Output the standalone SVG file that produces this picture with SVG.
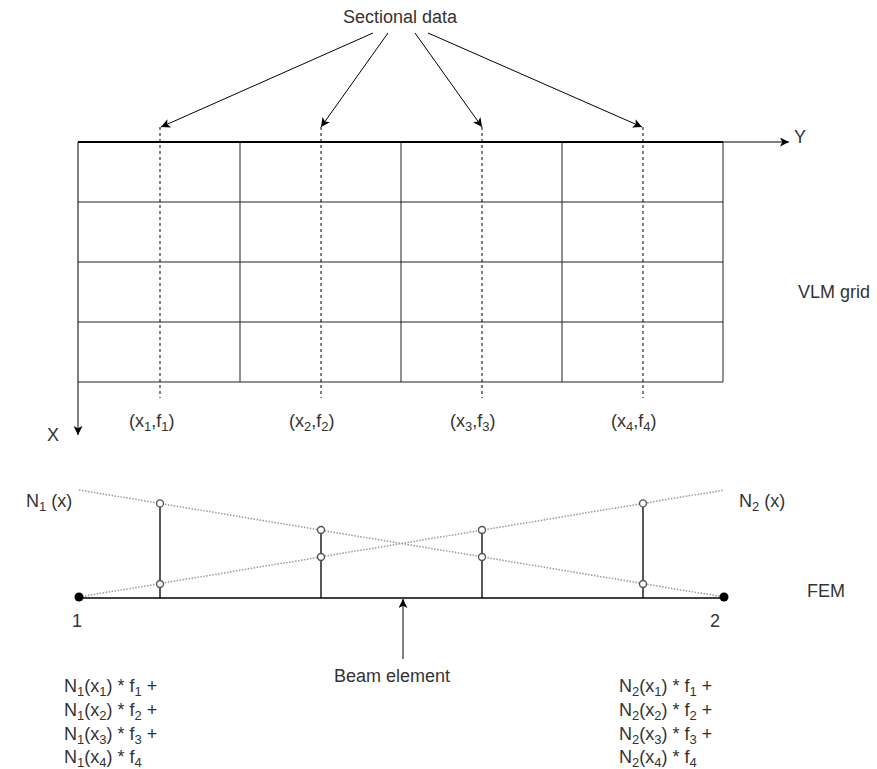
<svg xmlns="http://www.w3.org/2000/svg" width="877" height="769" viewBox="0 0 877 769">
<defs>
<marker id="arr" viewBox="0 0 10 10" refX="10" refY="5" markerUnits="userSpaceOnUse" markerWidth="11" markerHeight="9" orient="auto">
<path d="M0,0 L10,5 L0,10 L2.5,5 z" fill="#000"/>
</marker>
<style>
text{font-family:"Liberation Sans",Arial,sans-serif;font-size:18px;fill:#333}
.sub{font-size:13px}
.grid{stroke:#222;stroke-width:1;fill:none}
.border{stroke:#000;stroke-width:2;fill:none}
.dash{stroke:#000;stroke-width:1;stroke-dasharray:3,3;fill:none}
.dot{stroke:#999;stroke-width:1.5;stroke-dasharray:1.5,1.5;fill:none}
.conn{stroke:#000;stroke-width:1;fill:none}
.post{stroke:#000;stroke-width:1.3}
.pt{fill:#fff;stroke:#555;stroke-width:1.4}
</style>
</defs>
<rect width="877" height="769" fill="#fff"/>

<g id="vlm-grid">
<path class="grid" d="M78,202H723M78,262H723M78,322H723M78,382H723M240,142V382M401,142V382M562,142V382M723,142V382"/>
<path class="border" d="M78,142H723"/>
</g>

<g id="axes">
<path class="conn" d="M723,142H789" marker-end="url(#arr)" stroke-width="1.3"/>
<path class="conn" d="M78,142V435" marker-end="url(#arr)" stroke-width="2"/>
<text x="794" y="143">Y</text>
<text x="47" y="441">X</text>
</g>

<g id="sections">
<path class="dash" d="M160,127V398M321,127V398M482,127V398M643,127V398"/>
<text x="129" y="427">(x<tspan class="sub" dy="4">1</tspan><tspan dy="-4">,f</tspan><tspan class="sub" dy="4">1</tspan><tspan dy="-4">)</tspan></text>
<text x="289" y="427">(x<tspan class="sub" dy="4">2</tspan><tspan dy="-4">,f</tspan><tspan class="sub" dy="4">2</tspan><tspan dy="-4">)</tspan></text>
<text x="450" y="427">(x<tspan class="sub" dy="4">3</tspan><tspan dy="-4">,f</tspan><tspan class="sub" dy="4">3</tspan><tspan dy="-4">)</tspan></text>
<text x="611" y="427">(x<tspan class="sub" dy="4">4</tspan><tspan dy="-4">,f</tspan><tspan class="sub" dy="4">4</tspan><tspan dy="-4">)</tspan></text>
</g>

<g id="sectional-data">
<text x="400" y="23" text-anchor="middle">Sectional data</text>
</g>

<g id="vlm-label"><text x="798" y="298">VLM grid</text></g>

<g id="connectors">
<line class="conn" x1="373" y1="33" x2="161" y2="127" marker-end="url(#arr)"/>
<line class="conn" x1="388" y1="33" x2="321" y2="127" marker-end="url(#arr)"/>
<line class="conn" x1="415" y1="33" x2="482" y2="127" marker-end="url(#arr)"/>
<line class="conn" x1="428" y1="33" x2="642" y2="127" marker-end="url(#arr)"/>
<line class="conn" x1="403" y1="659" x2="403" y2="599" marker-end="url(#arr)"/>
</g>

<g id="shape-functions">
<line class="dot" x1="79" y1="490" x2="724" y2="597"/>
<line class="dot" x1="79" y1="597" x2="724" y2="490"/>
<text x="26" y="507">N<tspan class="sub" dy="4">1</tspan><tspan dy="-4"> (x)</tspan></text>
<text x="739" y="507">N<tspan class="sub" dy="4">2</tspan><tspan dy="-4"> (x)</tspan></text>
</g>

<g id="fem-beam">
<line x1="79" y1="598" x2="724" y2="598" stroke="#000" stroke-width="1.5"/>
<path class="post" d="M160,503V598M321,530V598M482,530V598M643,503V598"/>
<circle class="pt" cx="160" cy="503.4" r="3.5"/>
<circle class="pt" cx="160" cy="584" r="3.5"/>
<circle class="pt" cx="321" cy="530" r="3.5"/>
<circle class="pt" cx="321" cy="557" r="3.5"/>
<circle class="pt" cx="482" cy="530" r="3.5"/>
<circle class="pt" cx="482" cy="557" r="3.5"/>
<circle class="pt" cx="643" cy="503.4" r="3.5"/>
<circle class="pt" cx="643" cy="584" r="3.5"/>
<circle cx="79" cy="597" r="4.5" fill="#000"/>
<circle cx="724" cy="597" r="4.5" fill="#000"/>
<text x="72" y="627">1</text>
<text x="710" y="627">2</text>
<text x="807" y="597">FEM</text>
<text x="392" y="682" text-anchor="middle">Beam element</text>
</g>

<g id="sum-node1">
<text x="64" y="692">N<tspan class="sub" dy="4">1</tspan><tspan dy="-4">(x</tspan><tspan class="sub" dy="4">1</tspan><tspan dy="-4">) * f</tspan><tspan class="sub" dy="4">1</tspan><tspan dy="-4"> +</tspan></text>
<text x="64" y="716">N<tspan class="sub" dy="4">1</tspan><tspan dy="-4">(x</tspan><tspan class="sub" dy="4">2</tspan><tspan dy="-4">) * f</tspan><tspan class="sub" dy="4">2</tspan><tspan dy="-4"> +</tspan></text>
<text x="64" y="740">N<tspan class="sub" dy="4">1</tspan><tspan dy="-4">(x</tspan><tspan class="sub" dy="4">3</tspan><tspan dy="-4">) * f</tspan><tspan class="sub" dy="4">3</tspan><tspan dy="-4"> +</tspan></text>
<text x="64" y="763">N<tspan class="sub" dy="4">1</tspan><tspan dy="-4">(x</tspan><tspan class="sub" dy="4">4</tspan><tspan dy="-4">) * f</tspan><tspan class="sub" dy="4">4</tspan></text>
</g>

<g id="sum-node2">
<text x="619" y="692">N<tspan class="sub" dy="4">2</tspan><tspan dy="-4">(x</tspan><tspan class="sub" dy="4">1</tspan><tspan dy="-4">) * f</tspan><tspan class="sub" dy="4">1</tspan><tspan dy="-4"> +</tspan></text>
<text x="619" y="716">N<tspan class="sub" dy="4">2</tspan><tspan dy="-4">(x</tspan><tspan class="sub" dy="4">2</tspan><tspan dy="-4">) * f</tspan><tspan class="sub" dy="4">2</tspan><tspan dy="-4"> +</tspan></text>
<text x="619" y="740">N<tspan class="sub" dy="4">2</tspan><tspan dy="-4">(x</tspan><tspan class="sub" dy="4">3</tspan><tspan dy="-4">) * f</tspan><tspan class="sub" dy="4">3</tspan><tspan dy="-4"> +</tspan></text>
<text x="619" y="763">N<tspan class="sub" dy="4">2</tspan><tspan dy="-4">(x</tspan><tspan class="sub" dy="4">4</tspan><tspan dy="-4">) * f</tspan><tspan class="sub" dy="4">4</tspan></text>
</g>
</svg>
